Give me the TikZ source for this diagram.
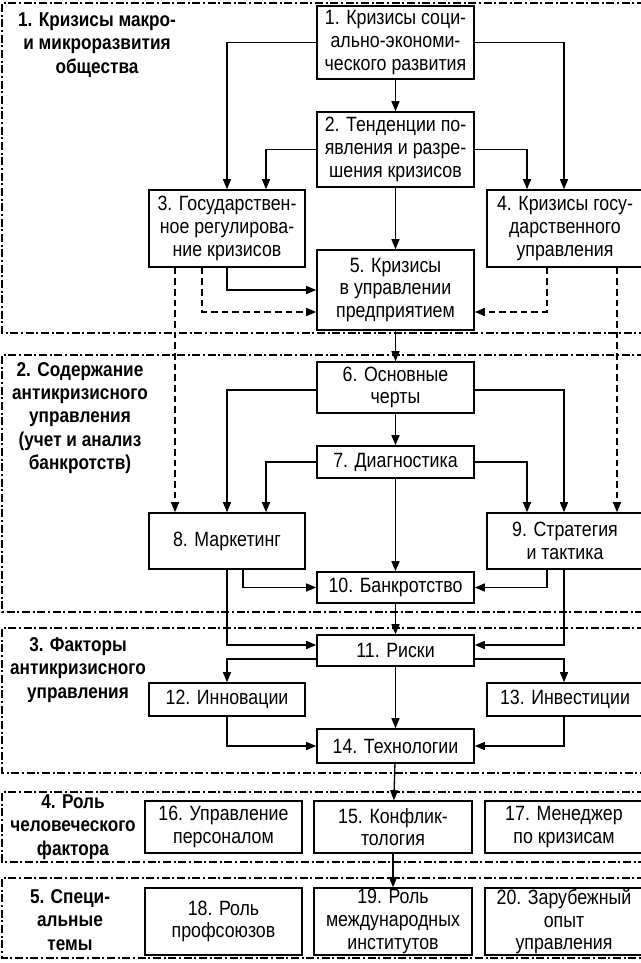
\documentclass[tikz,border=0pt]{standalone}
\usepackage{fontspec}
\setmainfont{Liberation Sans}[FakeStretch=0.86]
\usetikzlibrary{arrows.meta}
\begin{document}
\begin{tikzpicture}[x=0.75pt,y=-0.75pt,
  box/.style={draw,line width=1.2pt,inner sep=0pt,align=center,font=\fontsize{15.5}{17}\selectfont},
  bx/.style n args={2}{box,minimum width=#1*0.75pt,minimum height=#2*0.75pt},
  lab/.style={align=center,font=\bfseries\fontsize{15}{17.5}\selectfont},
  ar/.style={line width=1pt,-{Triangle[length=7.5pt,width=6pt]}},
  dar/.style={ar,dash pattern=on 5pt off 3pt},
  sec/.style={line width=0.8pt,dash pattern=on 6pt off 2pt on 1.5pt off 2pt}]
\useasboundingbox (0,0) rectangle (641,963);
\clip (0,0) rectangle (641,963);
\fill[white] (0,0) rectangle (641,963);
% sections
\draw[sec] (645,3) -- (2,3) -- (2,333) -- (645,333);
\draw[sec] (645,355) -- (2,355) -- (2,612) -- (645,612);
\draw[sec] (645,628) -- (2,628) -- (2,773) -- (645,773);
\draw[sec] (645,792) -- (2,792) -- (2,862) -- (645,862);
\draw[sec] (645,878) -- (2,878) -- (2,958) -- (645,958);
% labels
\node[lab] (s1) at (97,45) {1. Кризисы макро-\\и микроразвития\\общества};
\node[lab] (s2) at (80,418) {2. Содержание\\антикризисного\\управления\\(учет и анализ\\банкротств)};
\node[lab] (s3) at (78,670) {3. Факторы\\антикризисного\\управления};
\node[lab] (s4) at (73,827) {4. Роль\\человеческого\\фактора};
\node[lab] (s5) at (70,920) {5. Специ-\\альные\\темы};
% boxes
\node[bx={157}{73}] (b1) at (395.5,42.5) {1. Кризисы соци-\\ально-экономи-\\ческого развития};
\node[bx={157}{75}] (b2) at (395.5,149.5) {2. Тенденции по-\\явления и разре-\\шения кризисов};
\node[bx={156}{77}] (b3) at (227,228.5) {3. Государствен-\\ное регулирова-\\ние кризисов};
\node[bx={156}{77}] (b4) at (565,228.5) {4. Кризисы госу-\\дарственного\\управления};
\node[bx={157}{80}] (b5) at (395.5,290) {5. Кризисы\\в управлении\\предприятием};
\node[bx={157}{51}] (b6) at (395.5,387.5) {6. Основные\\черты};
\node[bx={157}{32}] (b7) at (395.5,462) {7. Диагностика};
\node[bx={156}{56}] (b8) at (227,541) {8. Маркетинг};
\node[bx={156}{56}] (b9) at (565,541) {9. Стратегия\\и тактика};
\node[bx={157}{31}] (b10) at (395.5,587.5) {10. Банкротство};
\node[bx={157}{31}] (b11) at (395.5,650.5) {11. Риски};
\node[bx={156}{33}] (b12) at (227,699.5) {12. Инновации};
\node[bx={156}{33}] (b13) at (565,699.5) {13. Инвестиции};
\node[bx={157}{34}] (b14) at (395.5,746) {14. Технологии};
\node[bx={157}{52}] (b16) at (223.5,827) {16. Управление\\персоналом};
\node[bx={158}{52}] (b15) at (393,827) {15. Конфлик-\\тология};
\node[bx={158}{52}] (b17) at (564,827) {17. Менеджер\\по кризисам};
\node[bx={157}{67}] (b18) at (223.5,921.5) {18. Роль\\профсоюзов};
\node[bx={158}{67}] (b19) at (393,921.5) {19. Роль\\международных\\институтов};
\node[bx={158}{67}] (b20) at (564,921.5) {20. Зарубежный\\опыт\\управления};
% connectors section 1
\draw[ar] (b1.west) -| (227,0 |- b3.north);
\draw[ar] (b1.east) -| (564,0 |- b4.north);
\draw[ar] (b1) -- (b2);
\draw[ar] (b2.west) -| (266,0 |- b3.north);
\draw[ar] (b2.east) -| (527,0 |- b4.north);
\draw[ar] (b2) -- (b5);
\draw[ar] (227,0 |- b3.south) |- (b5.west);
\draw[dar] (202,0 |- b3.south) |- (b5.west |- 0,312);
\draw[dar] (547,0 |- b4.south) |- (b5.east |- 0,312);
\draw[dar] (175,0 |- b3.south) -- (175,0 |- b8.north);
\draw[dar] (617,0 |- b4.south) -- (617,0 |- b9.north);
% section 2
\draw[ar] (b5) -- (b6);
\draw[ar] (b6.west |- 0,390) -| (227,0 |- b8.north);
\draw[ar] (b6.east |- 0,390) -| (564,0 |- b9.north);
\draw[ar] (b6) -- (b7);
\draw[ar] (b7.west) -| (266,0 |- b8.north);
\draw[ar] (b7.east) -| (527,0 |- b9.north);
\draw[ar] (b7) -- (b10);
\draw[ar] (243,0 |- b8.south) |- (b10.west);
\draw[ar] (547,0 |- b9.south) |- (b10.east);
\draw[ar] (227,0 |- b8.south) |- (b11.west |- 0,645);
\draw[ar] (564,0 |- b9.south) |- (b11.east |- 0,645);
\draw[ar] (b10) -- (b11);
% section 3
\draw[ar] (b11.west |- 0,659) -| (227,0 |- b12.north);
\draw[ar] (b11.east |- 0,659) -| (564,0 |- b13.north);
\draw[ar] (b11) -- (b14);
\draw[ar] (227,0 |- b12.south) |- (b14.west |- 0,746);
\draw[ar] (564,0 |- b13.south) |- (b14.east |- 0,746);
\draw[ar] (b14) -- (b15);
\draw[ar] (b15) -- (b19);
\end{tikzpicture}
\end{document}
